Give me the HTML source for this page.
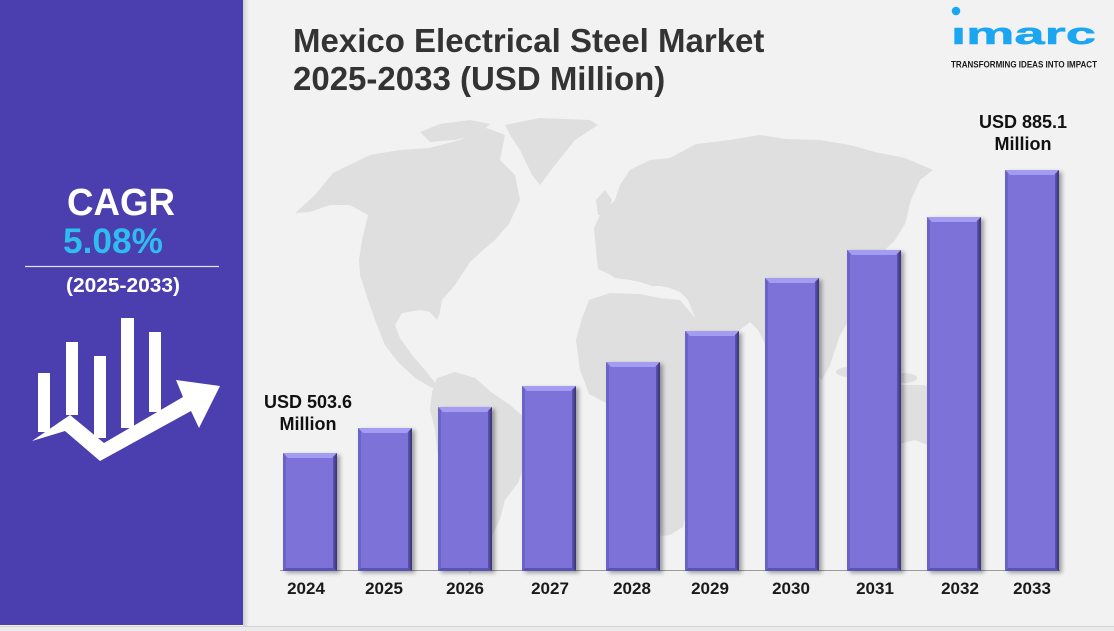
<!DOCTYPE html>
<html><head><meta charset="utf-8">
<style>
html,body{margin:0;padding:0;background:#f2f2f2;}
svg{display:block;}
text{font-family:"Liberation Sans",sans-serif;}
</style></head>
<body>
<svg width="1114" height="631" viewBox="0 0 1114 631" xmlns="http://www.w3.org/2000/svg">
<defs>
  <linearGradient id="pshadow" x1="0" x2="1" y1="0" y2="0">
    <stop offset="0" stop-color="#cfcfcf"/><stop offset="1" stop-color="#f2f2f2"/>
  </linearGradient>
  <linearGradient id="rgrad" x1="0" x2="1" y1="0" y2="0">
    <stop offset="0" stop-color="#5d55b5"/><stop offset="1" stop-color="#38326f"/>
  </linearGradient>
  <filter id="sh" x="-20%" y="-10%" width="150%" height="130%">
    <feDropShadow dx="3" dy="2" stdDeviation="2" flood-color="#000" flood-opacity="0.35"/>
  </filter>
  <clipPath id="logoclip"><rect x="940" y="27" width="170" height="25"/></clipPath>
</defs>
<rect x="0" y="0" width="1114" height="631" fill="#f2f2f2"/>
<rect x="0" y="626" width="1114" height="5" fill="#ebebeb"/>
<line x1="0" y1="626.5" x2="1114" y2="626.5" stroke="#d3d3d3" stroke-width="1"/>

<!-- world map -->
<g fill="#dfdfdf">
  <polygon points="295,213 315,195 333,173 370,155 400,150 429,148 460,140 487,128 505,135 500,160 515,175 520,200 509,224 495,240 482,251 470,262 455,285 442,300 440,312 437,320 430,312 420,310 402,313 395,325 400,338 412,355 425,370 437,385 432,388 415,378 398,362 385,345 375,320 368,300 360,275 359,260 362,240 368,215 350,205 330,205 310,212"/>
  <polygon points="420,132 440,124 470,120 490,124 480,134 455,140 430,142"/>
  <polygon points="505,125 540,118 590,120 598,125 575,140 555,165 540,185 532,175 520,150 510,135"/>
  <polygon points="437,378 455,372 475,378 491,392 510,405 533,425 533,443 525,465 518,483 505,500 500,519 490,540 480,560 470,575 462,560 458,530 452,500 446,480 437,450 435,430 430,410 432,392"/>
  <polygon points="594,228 600,215 615,200 620,185 630,170 650,160 670,158 696,144 730,140 760,135 786,139 820,140 850,145 875,152 905,158 933,170 920,180 911,200 905,224 895,240 880,255 870,262 878,280 884,291 872,300 860,310 848,322 840,335 835,350 830,365 822,380 815,372 810,355 800,345 790,338 780,340 770,355 763,340 758,330 750,322 740,330 730,345 720,358 710,345 700,330 696,320 688,300 680,292 670,288 660,286 652,286 640,282 630,280 615,278 607,273 598,269 596,250"/>
  <polygon points="589,300 610,293 640,294 660,298 680,300 695,318 705,340 723,371 715,385 710,410 710,447 700,470 690,500 683,527 670,535 661,536 655,510 648,480 643,447 635,420 629,411 610,405 589,394 580,370 576,340 582,318"/>
  <polygon points="880,395 900,385 925,385 945,395 955,415 950,440 935,448 915,440 895,445 880,430 875,410"/>
  <polygon points="893,250 900,260 896,285 888,300 884,292 890,275"/>
  <ellipse cx="850" cy="372" rx="14" ry="5"/>
  <ellipse cx="878" cy="368" rx="10" ry="6"/>
  <ellipse cx="905" cy="378" rx="12" ry="5"/>
  <polygon points="596,200 605,190 612,200 606,215 598,215"/>
  <polygon points="729,366 735,372 730,395 724,390"/>
  <ellipse cx="966" cy="455" rx="5" ry="9"/>
</g>

<!-- left panel -->
<rect x="243" y="0" width="6" height="626" fill="url(#pshadow)"/>
<rect x="0" y="0" width="243" height="625" fill="#4b3faf"/>
<text x="121" y="215" text-anchor="middle" font-size="38" font-weight="bold" fill="#ffffff" textLength="108" lengthAdjust="spacingAndGlyphs">CAGR</text>
<text x="113" y="253" text-anchor="middle" font-size="35" font-weight="bold" fill="#2fbdf0" textLength="100" lengthAdjust="spacingAndGlyphs">5.08%</text>
<line x1="25" y1="266.5" x2="219" y2="266.5" stroke="#ffffff" stroke-opacity="0.85" stroke-width="1.2"/>
<text x="123" y="292" text-anchor="middle" font-size="20" font-weight="bold" fill="#ffffff" textLength="114" lengthAdjust="spacingAndGlyphs">(2025-2033)</text>
<g fill="#ffffff">
  <rect x="38" y="373" width="12" height="59"/>
  <rect x="66" y="342" width="12" height="73"/>
  <rect x="94" y="356" width="12" height="82"/>
  <rect x="121" y="318" width="13" height="110"/>
  <rect x="149" y="332" width="12" height="80"/>
  <polygon points="32,441 70,415 104,443 183,397 176,380 220,386 199,428 191,411 100,461 65,431"/>
</g>

<!-- title -->
<text x="293" y="52" font-size="33" font-weight="bold" fill="#333333">Mexico Electrical Steel Market</text>
<text x="293" y="90" font-size="33" font-weight="bold" fill="#333333">2025-2033 (USD Million)</text>

<!-- logo -->
<circle cx="956" cy="11" r="4.3" fill="#1ca6f2"/>
<g clip-path="url(#logoclip)">
<text x="951" y="44" font-size="31" font-weight="bold" fill="#1ca6f2" stroke="#1ca6f2" stroke-width="0.5" stroke-linejoin="round" textLength="145" lengthAdjust="spacingAndGlyphs">imarc</text>
</g>
<text x="951" y="67.5" font-size="9.5" font-weight="bold" fill="#1a1a1a" textLength="146" lengthAdjust="spacingAndGlyphs">TRANSFORMING IDEAS INTO IMPACT</text>

<!-- axis -->
<line x1="280" y1="570.5" x2="1060" y2="570.5" stroke="#9a9a9a" stroke-width="1"/>

<!-- bars -->
<g filter="url(#sh)">
  <g>
    <rect x="283" y="453" width="54" height="118" fill="#7b72d8"/>
    <polygon points="283,453 337,453 332,458 288,458" fill="#a39cf0"/>
    <polygon points="337,453 337,571 333,568 333,457" fill="url(#rgrad)"/>
    <polygon points="283,453 286,456 286,568 283,571" fill="#6c64c8"/>
    <polygon points="283,571 286,568 333,568 337,571" fill="#5a52b2"/>
  </g>
  <g>
    <rect x="358" y="428" width="54" height="143" fill="#7b72d8"/>
    <polygon points="358,428 412,428 407,433 363,433" fill="#a39cf0"/>
    <polygon points="412,428 412,571 408,568 408,432" fill="url(#rgrad)"/>
    <polygon points="358,428 361,431 361,568 358,571" fill="#6c64c8"/>
    <polygon points="358,571 361,568 408,568 412,571" fill="#5a52b2"/>
  </g>
  <g>
    <rect x="438" y="407" width="54" height="164" fill="#7b72d8"/>
    <polygon points="438,407 492,407 487,412 443,412" fill="#a39cf0"/>
    <polygon points="492,407 492,571 488,568 488,411" fill="url(#rgrad)"/>
    <polygon points="438,407 441,410 441,568 438,571" fill="#6c64c8"/>
    <polygon points="438,571 441,568 488,568 492,571" fill="#5a52b2"/>
  </g>
  <g>
    <rect x="522" y="386" width="54" height="185" fill="#7b72d8"/>
    <polygon points="522,386 576,386 571,391 527,391" fill="#a39cf0"/>
    <polygon points="576,386 576,571 572,568 572,390" fill="url(#rgrad)"/>
    <polygon points="522,386 525,389 525,568 522,571" fill="#6c64c8"/>
    <polygon points="522,571 525,568 572,568 576,571" fill="#5a52b2"/>
  </g>
  <g>
    <rect x="606" y="362" width="54" height="209" fill="#7b72d8"/>
    <polygon points="606,362 660,362 655,367 611,367" fill="#a39cf0"/>
    <polygon points="660,362 660,571 656,568 656,366" fill="url(#rgrad)"/>
    <polygon points="606,362 609,365 609,568 606,571" fill="#6c64c8"/>
    <polygon points="606,571 609,568 656,568 660,571" fill="#5a52b2"/>
  </g>
  <g>
    <rect x="685" y="331" width="54" height="240" fill="#7b72d8"/>
    <polygon points="685,331 739,331 734,336 690,336" fill="#a39cf0"/>
    <polygon points="739,331 739,571 735,568 735,335" fill="url(#rgrad)"/>
    <polygon points="685,331 688,334 688,568 685,571" fill="#6c64c8"/>
    <polygon points="685,571 688,568 735,568 739,571" fill="#5a52b2"/>
  </g>
  <g>
    <rect x="765" y="278" width="54" height="293" fill="#7b72d8"/>
    <polygon points="765,278 819,278 814,283 770,283" fill="#a39cf0"/>
    <polygon points="819,278 819,571 815,568 815,282" fill="url(#rgrad)"/>
    <polygon points="765,278 768,281 768,568 765,571" fill="#6c64c8"/>
    <polygon points="765,571 768,568 815,568 819,571" fill="#5a52b2"/>
  </g>
  <g>
    <rect x="847" y="250" width="54" height="321" fill="#7b72d8"/>
    <polygon points="847,250 901,250 896,255 852,255" fill="#a39cf0"/>
    <polygon points="901,250 901,571 897,568 897,254" fill="url(#rgrad)"/>
    <polygon points="847,250 850,253 850,568 847,571" fill="#6c64c8"/>
    <polygon points="847,571 850,568 897,568 901,571" fill="#5a52b2"/>
  </g>
  <g>
    <rect x="927" y="217" width="54" height="354" fill="#7b72d8"/>
    <polygon points="927,217 981,217 976,222 932,222" fill="#a39cf0"/>
    <polygon points="981,217 981,571 977,568 977,221" fill="url(#rgrad)"/>
    <polygon points="927,217 930,220 930,568 927,571" fill="#6c64c8"/>
    <polygon points="927,571 930,568 977,568 981,571" fill="#5a52b2"/>
  </g>
  <g>
    <rect x="1005" y="170" width="54" height="401" fill="#7b72d8"/>
    <polygon points="1005,170 1059,170 1054,175 1010,175" fill="#a39cf0"/>
    <polygon points="1059,170 1059,571 1055,568 1055,174" fill="url(#rgrad)"/>
    <polygon points="1005,170 1008,173 1008,568 1005,571" fill="#6c64c8"/>
    <polygon points="1005,571 1008,568 1055,568 1059,571" fill="#5a52b2"/>
  </g>
</g>

<!-- value labels -->
<g font-size="18" font-weight="bold" fill="#111111" text-anchor="middle">
  <text x="308" y="408">USD 503.6</text>
  <text x="308" y="430">Million</text>
  <text x="1023" y="128">USD 885.1</text>
  <text x="1023" y="150">Million</text>
</g>

<!-- year labels -->
<g font-size="17" font-weight="bold" fill="#1a1a1a" text-anchor="middle">
  <text x="306" y="594">2024</text>
  <text x="384" y="594">2025</text>
  <text x="465" y="594">2026</text>
  <text x="550" y="594">2027</text>
  <text x="632" y="594">2028</text>
  <text x="710" y="594">2029</text>
  <text x="791" y="594">2030</text>
  <text x="875" y="594">2031</text>
  <text x="960" y="594">2032</text>
  <text x="1032" y="594">2033</text>
</g>
</svg>
</body></html>
